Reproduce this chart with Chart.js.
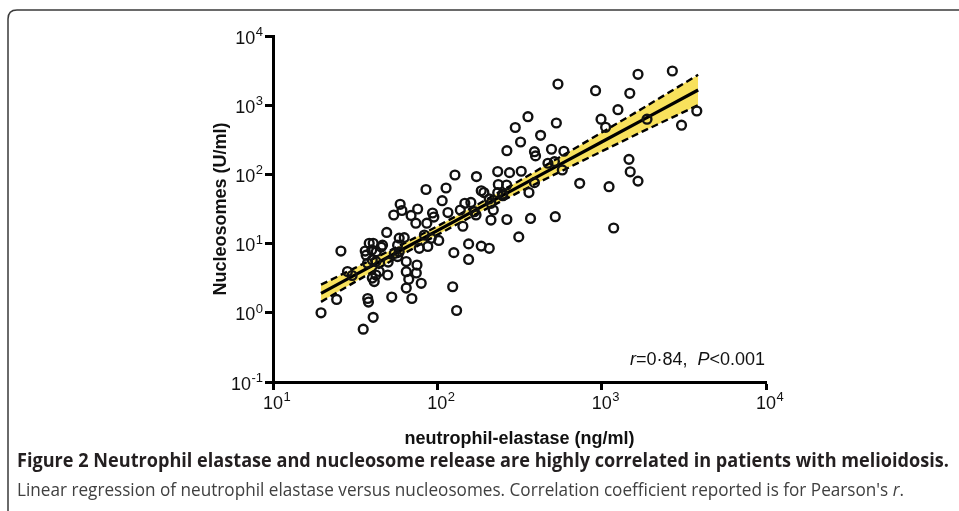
<!DOCTYPE html>
<html>
<head>
<meta charset="utf-8">
<script src="https://cdn.jsdelivr.net/npm/chart.js@4/dist/chart.umd.min.js"></script>
<style>
  html, body { margin: 0; padding: 0; background: #fff; }
  #wrap { position: relative; width: 959px; height: 511px; }
</style>
</head>
<body>
<div id="wrap"><canvas id="chart" width="959" height="511"></canvas></div>
<script>
// Neutrophil elastase (ng/ml) vs nucleosomes (U/ml), one entry per patient.
const ELASTASE = [
  19.6, 24.4, 25.9, 28.4, 30.3, 35.4, 37.7, 38.1, 40.7, 36.4,
  38.5, 40.7, 36.9, 39.9, 42.5, 45.6, 37.6, 40.2, 42.3, 40.2,
  41.3, 44.3, 42.3, 46.4, 49.2, 49.9, 50.2, 52.8, 54.7, 58.6,
  57.3, 54.3, 59.4, 60.9, 58.6, 62.9, 57.3, 64.7, 64.7, 67.0,
  64.7, 75.2, 74.5, 70.0, 79.8, 69.2, 75.9, 74.0, 77.6, 83.4,
  91.8, 87.5, 102, 85.3, 93.5, 95.2, 86.3, 107, 113, 116,
  126, 124, 131, 128, 155, 155, 143, 138, 147, 160,
  168, 172, 173, 185, 192, 185, 207, 207, 212, 250,
  219, 212, 265, 369, 522, 313, 233, 275, 324, 235,
  264, 233, 250, 265, 298, 321, 356, 425, 530, 390,
  396, 495, 589, 471, 516, 576, 390, 361, 735, 1109,
  1183, 1466, 1492, 1664, 542, 918, 1664, 2692, 1483, 1256,
  991, 1057, 1888, 3793, 3062
];
const NUCLEOSOMES = [
  1.0, 1.56, 7.8, 3.95, 3.46, 0.58, 1.61, 1.43, 0.86, 7.8,
  10.1, 10.1, 6.8, 8.1, 7.6, 8.9, 5.2, 5.8, 5.5, 3.18,
  2.83, 3.95, 3.52, 9.5, 14.5, 3.52, 5.4, 1.69, 7.2, 7.6,
  6.5, 25.9, 37.0, 30.1, 12.0, 12.2, 9.5, 5.5, 3.93, 3.05,
  2.28, 4.9, 3.76, 1.61, 2.67, 25.5, 31.6, 19.7, 8.55, 13.3,
  11.9, 9.1, 11.1, 60.5, 27.7, 24.2, 19.7, 41.7, 63.6, 28.1,
  7.4, 2.38, 1.08, 98, 9.9, 5.9, 17.8, 30.6, 38.2, 39.3,
  28.9, 25.9, 93, 58, 54.7, 9.2, 8.55, 44.2, 38.2, 49.2,
  30.6, 21.9, 22.3, 23.1, 24.5, 12.5, 110, 106, 111, 71.5,
  70.3, 54.4, 52.1, 220, 476, 294, 682, 367, 553, 213,
  185, 231, 216, 145, 153, 116, 76, 54.7, 74.3, 66.4,
  16.8, 165, 109, 80, 2023, 1621, 2797, 3121, 1486, 861,
  628, 479, 628, 825, 514
];

// Regression line and its 95% confidence band.
const FIT_X    = [19.6, 31.6, 56.2, 100, 178, 316, 562, 1000, 1778, 3865];
const FIT_Y    = [1.91, 3.53, 7.38, 15.4, 32.2, 67.3, 141, 294, 614, 1660];
const CI_UPPER = [2.55, 4.46, 8.81, 17.8, 37.3, 81.1, 180, 402, 902, 2750];
const CI_LOWER = [1.44, 2.80, 6.18, 13.4, 27.8, 55.8, 110, 215, 418, 1000];

const X_TICKS = [10, 100, 1000, 10000];
const Y_TICKS = [0.1, 1, 10, 100, 1000, 10000];

const BAND = "#f8e15c";
const SANS = '"Liberation Sans", Arial, Helvetica, sans-serif';

const pts = (xs, ys) => xs.map((x, i) => ({ x, y: ys[i] }));

// "10" with a raised exponent, like the GraphPad axis labels.
function powLabel(ctx, v, x, y, side) {
  const exp = String(Math.round(Math.log10(v)));
  ctx.font = `18px ${SANS}`;
  const bw = ctx.measureText("10").width;
  ctx.font = `13px ${SANS}`;
  const ew = ctx.measureText(exp).width;
  ctx.textBaseline = "alphabetic";
  ctx.textAlign = "left";
  if (side === "left") {
    const ex = x - ew;
    ctx.fillText(exp, ex, y);
    ctx.font = `18px ${SANS}`;
    ctx.fillText("10", ex - bw - 0.5, y + 7.6);
  } else {
    ctx.font = `18px ${SANS}`;
    ctx.fillText("10", x - bw / 2, y);
    ctx.font = `13px ${SANS}`;
    ctx.fillText(exp, x + bw / 2 + 0.5, y - 8);
  }
}

// Draw a row of [text, font] runs squeezed to a given width.
function fitRuns(ctx, runs, x, y, width, color) {
  let total = 0;
  for (const [t, f] of runs) { ctx.font = f; total += ctx.measureText(t).width; }
  ctx.save();
  ctx.translate(x, y);
  ctx.scale(width / total, 1);
  ctx.fillStyle = color;
  ctx.textAlign = "left";
  ctx.textBaseline = "alphabetic";
  let cx = 0;
  for (const [t, f] of runs) { ctx.font = f; ctx.fillText(t, cx, 0); cx += ctx.measureText(t).width; }
  ctx.restore();
}

const decor = {
  id: "decor",
  afterDraw(chart) {
    const { ctx, scales: { x, y } } = chart;
    ctx.save();

    // panel frame (runs off the right and bottom edges)
    ctx.strokeStyle = "#3a3a3a";
    ctx.lineWidth = 1.5;
    ctx.beginPath();
    ctx.moveTo(8, 520);
    ctx.lineTo(8, 19);
    ctx.quadraticCurveTo(8, 10, 17, 10);
    ctx.lineTo(970, 10);
    ctx.stroke();

    ctx.fillStyle = "#111";
    for (const v of Y_TICKS) powLabel(ctx, v, x.left - 10, y.getPixelForValue(v), "left");
    for (const v of X_TICKS) powLabel(ctx, v, x.getPixelForValue(v), y.bottom + 27, "bottom");

    // axis titles
    ctx.font = `bold 18px ${SANS}`;
    ctx.textAlign = "center";
    ctx.textBaseline = "alphabetic";
    ctx.fillText("neutrophil-elastase (ng/ml)", (x.left + x.right) / 2, 444);
    ctx.save();
    ctx.translate(226, (y.top + y.bottom) / 2);
    ctx.rotate(-Math.PI / 2);
    ctx.fillText("Nucleosomes (U/ml)", 0, 0);
    ctx.restore();

    // correlation note
    const it = `italic 18px ${SANS}`, rg = `18px ${SANS}`;
    const runs = [["r", it], ["=0\u00b784,  ", rg], ["P", it], ["<0.001", rg]];
    let w = 0;
    for (const [t, f] of runs) { ctx.font = f; w += ctx.measureText(t).width; }
    let cx = 765 - w;
    ctx.textAlign = "left";
    for (const [t, f] of runs) { ctx.font = f; ctx.fillText(t, cx, 365); cx += ctx.measureText(t).width; }

    // figure caption
    const cap = '"Open Sans", "Noto Sans", sans-serif';
    fitRuns(ctx, [["Figure 2 Neutrophil elastase and nucleosome release are highly correlated in patients with melioidosis.", `bold 19px ${cap}`]],
      17, 467, 932, "#231f20");
    fitRuns(ctx, [["Linear regression of neutrophil elastase versus nucleosomes. Correlation coefficient reported is for Pearson's ", `18px ${cap}`],
                  ["r", `italic 18px ${cap}`], [".", `18px ${cap}`]],
      17, 496, 887, "#404040");
    ctx.restore();
  }
};

const axisCommon = {
  type: "logarithmic",
  border: { display: true, color: "#000", width: 3 },
  grid: { display: true, drawOnChartArea: false, drawTicks: true, tickLength: 8, tickWidth: 3, tickColor: "#000" },
  ticks: { display: false },
};

new Chart(document.getElementById("chart"), {
  type: "scatter",
  data: {
    datasets: [
      {
        label: "patients",
        data: pts(ELASTASE, NUCLEOSOMES),
        pointRadius: 4.4,
        pointBorderWidth: 2.4,
        pointBorderColor: "#111",
        pointBackgroundColor: "rgba(0,0,0,0)",
        showLine: false,
      },
      {
        label: "fit",
        data: pts(FIT_X, FIT_Y),
        showLine: true, borderColor: "#000", borderWidth: 3.2,
        pointRadius: 0, fill: false,
      },
      {
        label: "upper 95% CI",
        data: pts(FIT_X, CI_UPPER),
        showLine: true, borderColor: "#000", borderWidth: 2.4, borderDash: [7, 4],
        pointRadius: 0, fill: { target: 3 }, backgroundColor: BAND,
      },
      {
        label: "lower 95% CI",
        data: pts(FIT_X, CI_LOWER),
        showLine: true, borderColor: "#000", borderWidth: 2.4, borderDash: [7, 4],
        pointRadius: 0, fill: false,
      },
    ],
  },
  options: {
    responsive: false,
    animation: false,
    layout: { padding: { top: 36, right: 193, left: 0, bottom: 0 } },
    scales: {
      x: {
        ...axisCommon, min: 10, max: 10000,
        afterBuildTicks: (s) => { s.ticks = X_TICKS.map((v) => ({ value: v })); },
        afterFit: (s) => { s.height = 129; },
      },
      y: {
        ...axisCommon, min: 0.1, max: 10000,
        afterBuildTicks: (s) => { s.ticks = Y_TICKS.map((v) => ({ value: v })); },
        afterFit: (s) => { s.width = 273; },
      },
    },
    plugins: {
      legend: { display: false },
      tooltip: { enabled: false },
      filler: { drawTime: "beforeDatasetsDraw" },
    },
  },
  plugins: [decor],
});
</script>
</body>
</html>
